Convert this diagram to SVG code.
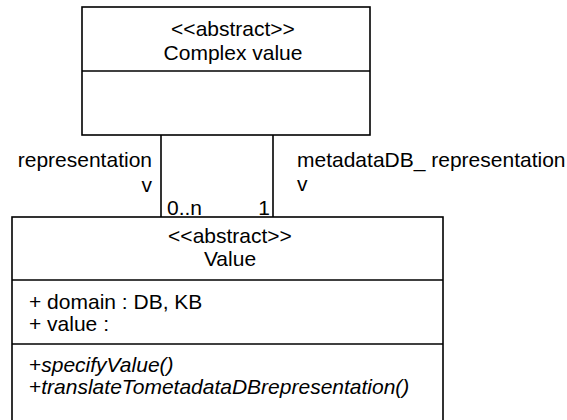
<svg xmlns="http://www.w3.org/2000/svg" width="567" height="420" viewBox="0 0 567 420">
  <style>
    text { font-family: "Liberation Sans", Arial, sans-serif; font-size: 21px; fill: #000; }
    .c { text-anchor: middle; }
    .e { text-anchor: end; }
    .i { font-style: italic; }
    .box { fill: #fff; stroke: #000; stroke-width: 1.6; }
    .sep { stroke: #000; stroke-width: 1.6; }
    .edge { stroke: #000; stroke-width: 1.6; fill: none; }
  </style>
  <rect width="567" height="420" fill="#fff"/>

  <!-- associations between the two classes -->
  <g id="connectors">
    <line class="edge" x1="161" y1="135" x2="161" y2="217"/>
    <line class="edge" x1="273" y1="135" x2="273" y2="217"/>
    <text class="e" x="152" y="167">representation</text>
    <text class="e" x="152" y="192">v</text>
    <text x="297" y="167">metadataDB_ representation</text>
    <text x="297" y="191">v</text>
    <text x="167" y="215">0..n</text>
    <text class="e" x="270" y="215">1</text>
  </g>

  <!-- abstract class Complex value -->
  <g id="complex-value">
    <rect class="box" x="82" y="7" width="288" height="128"/>
    <line class="sep" x1="82" y1="71" x2="370" y2="71"/>
    <text class="c" x="233" y="36">&lt;&lt;abstract&gt;&gt;</text>
    <text class="c" x="233" y="60">Complex value</text>
  </g>

  <!-- abstract class Value -->
  <g id="value">
    <rect class="box" x="12" y="217" width="431" height="220"/>
    <line class="sep" x1="12" y1="280" x2="443" y2="280"/>
    <line class="sep" x1="12" y1="344" x2="443" y2="344"/>
    <text class="c" x="230" y="243">&lt;&lt;abstract&gt;&gt;</text>
    <text class="c" x="230" y="266">Value</text>
    <text x="29" y="309">+ domain : DB, KB</text>
    <text x="29" y="331">+ value :</text>
    <text x="29" y="372">+<tspan class="i">specifyValue()</tspan></text>
    <text x="29" y="394">+<tspan class="i">translateTometadataDBrepresentation()</tspan></text>
  </g>
</svg>
